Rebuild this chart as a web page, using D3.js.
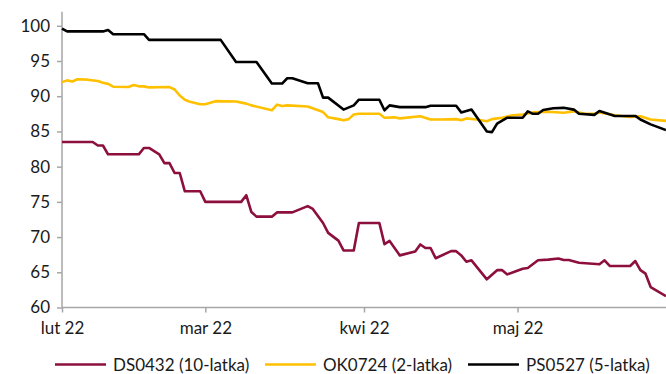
<!DOCTYPE html>
<html><head><meta charset="utf-8">
<script src="https://cdn.jsdelivr.net/npm/d3@7/dist/d3.min.js"></script>
<style>
html,body{margin:0;padding:0;background:#fff;}
svg{display:block;}
text{font-family:Lato, "Open Sans", sans-serif;}
</style></head>
<body><svg id="c" width="666" height="374"></svg>
<script>
// ---- data ----
const monthTicks = ["2022-02-01","2022-03-01","2022-04-01","2022-05-01"];
const monthLabels = ["lut 22","mar 22","kwi 22","maj 22"];
const yTicks = [60,65,70,75,80,85,90,95,100];
const seriesNames = ["DS0432 (10-latka)","OK0724 (2-latka)","PS0527 (5-latka)"];
const seriesColors = ["#8C0F3D","#FFC000","#000000"];

const dsDates = ["02-01","02-07","02-08","02-09","02-10","02-16","02-17","02-18","02-20","02-21","02-22","02-23","02-24","02-25","02-28","03-01","03-08","03-09","03-10","03-11","03-14","03-15","03-18","03-21","03-22","03-24","03-25","03-27","03-28","03-30","03-31","04-04","04-05","04-06","04-08","04-11","04-12","04-13","04-14","04-15","04-18","04-19","04-20","04-21","04-22","04-25","04-27","04-28","04-29","05-02","05-03","05-05","05-07","05-09","05-10","05-11","05-13","05-17","05-18","05-19","05-23","05-24","05-25","05-26","05-27","05-30"];
const dsValues = [83.5,83.5,83.0,83.0,81.75,81.75,82.65,82.65,81.75,80.5,80.5,79.1,79.1,76.5,76.5,75.0,75.0,75.95,73.55,72.9,72.9,73.5,73.5,74.4,74.0,72.0,70.6,69.5,68.1,68.1,72.0,72.0,69.0,69.45,67.4,67.95,68.95,68.45,68.45,67.0,68.0,68.0,67.4,66.5,66.7,64.0,65.3,65.3,64.7,65.5,65.6,66.7,66.8,66.95,66.75,66.75,66.35,66.15,66.7,65.9,65.9,66.6,65.3,64.8,62.9,61.6];

const okDates = ["02-01","02-02","02-03","02-04","02-06","02-08","02-09","02-10","02-11","02-14","02-15","02-16","02-17","02-18","02-22","02-23","02-24","02-25","02-26","02-28","03-01","03-03","03-07","03-09","03-10","03-14","03-15","03-16","03-17","03-21","03-24","03-25","03-27","03-28","03-29","03-30","03-31","04-04","04-05","04-07","04-08","04-12","04-14","04-16","04-19","04-20","04-21","04-23","04-25","04-26","04-28","04-30","05-02","05-04","05-07","05-10","05-12","05-14","05-16","05-17","05-20","05-23","05-25","05-27","05-30"];
const okValues = [92.0,92.25,92.1,92.4,92.35,92.15,91.9,91.75,91.35,91.3,91.6,91.4,91.4,91.25,91.3,90.95,90.1,89.5,89.2,88.85,88.85,89.3,89.25,88.95,88.7,88.0,88.8,88.6,88.7,88.55,87.75,87.0,86.75,86.6,86.75,87.4,87.5,87.5,86.95,87.0,86.85,87.15,86.7,86.7,86.75,86.6,86.85,86.7,86.45,86.75,86.95,87.3,87.4,87.7,87.8,87.65,87.85,87.5,87.5,87.7,87.3,87.05,87.15,86.7,86.5];

const psDates = ["02-01","02-02","02-09","02-10","02-11","02-17","02-18","03-04","03-07","03-11","03-14","03-16","03-17","03-18","03-21","03-23","03-24","03-25","03-28","03-30","03-31","04-04","04-05","04-06","04-08","04-13","04-14","04-19","04-20","04-22","04-25","04-26","04-27","04-29","05-02","05-03","05-04","05-05","05-06","05-08","05-10","05-12","05-13","05-16","05-17","05-20","05-24","05-25","05-27","05-30"];
const psValues = [99.6,99.2,99.2,99.4,98.8,98.8,98.0,98.0,94.85,94.85,91.8,91.8,92.55,92.55,91.85,91.85,89.8,89.8,88.1,88.7,89.5,89.5,88.0,88.7,88.45,88.45,88.65,88.65,87.7,88.1,85.0,84.9,86.1,86.95,86.95,87.85,87.5,87.5,88.05,88.3,88.35,88.1,87.5,87.35,87.9,87.2,87.2,86.7,86.0,85.2];

// ---- chart ----
const parse = d3.timeParse("%Y-%m-%d");
const svg = d3.select("#c");
const x = d3.scaleTime().domain([parse("2022-02-01"), parse("2022-05-30")]).range([62, 666]);
const y = d3.scaleLinear().domain([60, 102]).range([307.5, 11.7]);
const axisColor = "#a6a6a6";
const textColor = "#1a1a1a";

function build(dates, vals){ return dates.map((d,i)=>({date: parse("2022-"+d), v: vals[i]})); }
const series = [build(dsDates, dsValues), build(okDates, okValues), build(psDates, psValues)];

// y axis
const yAxis = svg.append("g").attr("transform","translate(62,0)")
  .call(d3.axisLeft(y).tickValues(yTicks).tickSize(5).tickPadding(7).tickFormat(d3.format("d")));
yAxis.select(".domain").attr("stroke", axisColor).attr("stroke-width",1.5).attr("d","M0,11.7V307.5");
yAxis.selectAll(".tick line").attr("stroke", axisColor).attr("stroke-width",1.5);
yAxis.selectAll(".tick text").attr("fill", textColor).style("font-size","17px");

// x axis
const xAxis = svg.append("g").attr("transform","translate(0,307.5)")
  .call(d3.axisBottom(x).tickValues(monthTicks.map(parse)).tickSize(5).tickPadding(9)
    .tickFormat((d,i)=>monthLabels[i]));
xAxis.select(".domain").attr("stroke", axisColor).attr("stroke-width",1.5).attr("d","M62,0H666");
xAxis.selectAll(".tick line").attr("stroke", axisColor).attr("stroke-width",1.5);
xAxis.selectAll(".tick text").attr("fill", textColor).style("font-size","17px");

// lines
const line = d3.line().x(d=>x(d.date)).y(d=>y(d.v));
const order = [0,1,2];
order.forEach(i=>{
  svg.append("path").datum(series[i]).attr("fill","none")
    .attr("stroke", seriesColors[i]).attr("stroke-width",2.6)
    .attr("stroke-linejoin","round").attr("d", line);
});

// legend
const legX = [55, 265, 468];
const leg = svg.append("g");
seriesNames.forEach((n,i)=>{
  leg.append("line").attr("x1",legX[i]).attr("x2",legX[i]+51).attr("y1",364.5).attr("y2",364.5)
    .attr("stroke",seriesColors[i]).attr("stroke-width",2.6);
  leg.append("text").attr("x",legX[i]+58).attr("y",370.5).attr("fill",textColor)
    .style("font-size","17px").text(n);
});
</script></body></html>
